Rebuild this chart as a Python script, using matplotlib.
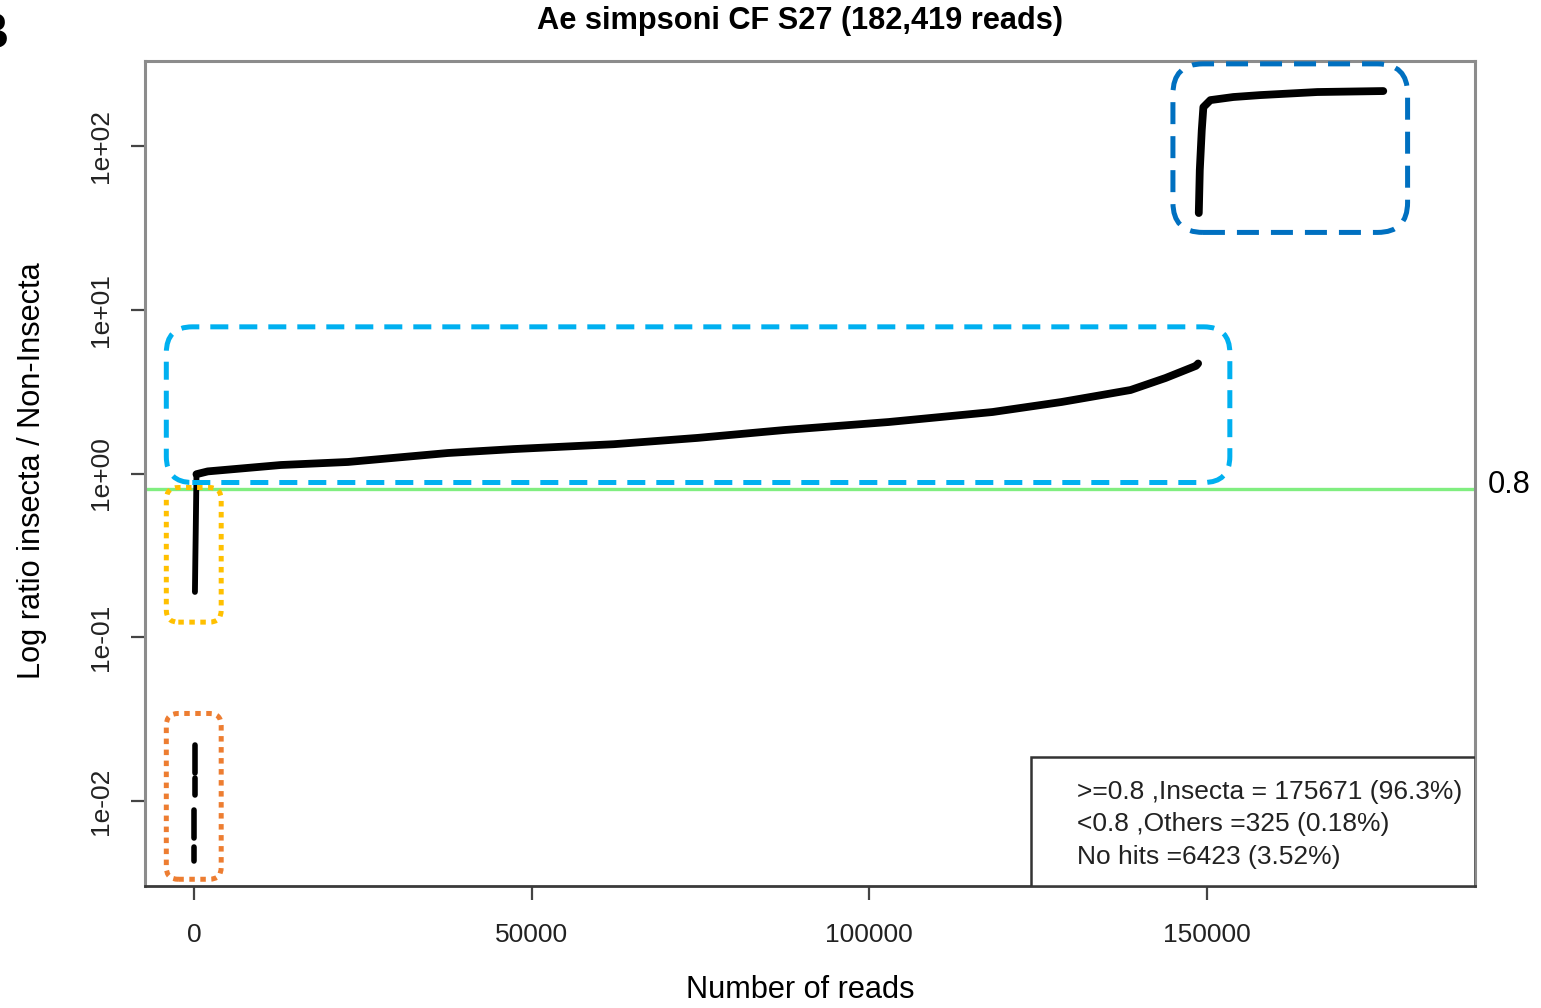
import matplotlib
matplotlib.use('Agg')
import matplotlib.pyplot as plt
from matplotlib import font_manager
from matplotlib.patches import FancyBboxPatch, Rectangle
from matplotlib.ticker import FixedLocator, FixedFormatter, NullLocator
from matplotlib.transforms import IdentityTransform

# --- data ---
# sorted ratio of insecta / non-insecta hits, drawn as separate runs
low_x = [10, 25, 40, 55]
low_top = [0.0052, 0.0088, 0.0138, 0.0221]
low_bot = [0.0043, 0.0059, 0.0109, 0.0149]

mid_x = [100, 160, 220, 280, 325]
mid_y = [0.189, 0.30, 0.45, 0.70, 0.97]

main_x = [325, 2000, 12840, 22760, 37570, 47330, 62140, 74570, 87460,
          102860, 118260, 128470, 138690, 143870, 148400, 148700]
main_y = [0.99, 1.03, 1.127, 1.176, 1.334, 1.41, 1.51, 1.65, 1.844,
          2.063, 2.375, 2.734, 3.236, 3.831, 4.55, 4.70]

top_x = [148800, 148950, 149240, 149480, 150520, 153920, 157920, 166360, 176130]
top_y = [39.0, 71.5, 125, 173, 191, 199.5, 205, 214, 217]

threshold = 0.8
total_reads = 182419

x_ticks = [0, 50000, 100000, 150000]
x_labels = ['0', '50000', '100000', '150000']
y_ticks = [1e-2, 1e-1, 1e0, 1e1, 1e2]
y_labels = ['1e-02', '1e-01', '1e+00', '1e+01', '1e+02']

legend_lines = ['>=0.8 ,Insecta = 175671 (96.3%)',
                '<0.8 ,Others =325 (0.18%)',
                'No hits =6423 (3.52%)']

# highlight boxes: (x0, x1, y0, y1, colour, dashes, rounding px)
boxes = [
    (-4140, 153400, 0.881, 7.87, '#00B0F0', (3.6, 2.2), 26),
    (144970, 179730, 29.7, 318, '#0070C0', (4.4, 2.4), 30),
    (-4140, 3990, 0.1236, 0.821, '#FFC000', (1.1, 1.1), 12),
    (-4140, 3990, 0.00332, 0.0342, '#ED7D31', (1.1, 1.1), 12),
]

# --- fonts ---
names = {f.name for f in font_manager.fontManager.ttflist}
if 'Liberation Sans Narrow' in names:
    narrow = 'Liberation Sans Narrow'
    nscale = 1.0
else:
    narrow = 'Liberation Sans'
    nscale = 0.82
plt.rcParams['font.family'] = ['Liberation Sans', 'DejaVu Sans']

W, H = 1541, 1008
fig = plt.figure(figsize=(W / 100, H / 100), dpi=100)
ax = fig.add_axes([145 / W, 1 - 886 / H, (1475 - 145) / W, (886 - 61) / H])

ax.set_yscale('log')
ax.set_xlim(-7297, 189716)
ax.set_ylim(10 ** -2.52, 10 ** 2.52)

# curve
lw = 5.6
for x, a, b in zip(low_x, low_bot, low_top):
    ax.plot([x, x], [a, b], color='black', lw=4, solid_capstyle='round')
ax.plot(mid_x, mid_y, color='black', lw=4.2, solid_capstyle='round')
ax.plot(main_x, main_y, color='black', lw=lw, solid_capstyle='round')
ax.plot(top_x, top_y, color='black', lw=lw, solid_capstyle='round')

ax.axhline(threshold, color='#80EE80', lw=2.4, zorder=1)

# axes look
for side in ['left', 'top', 'right']:
    ax.spines[side].set_color('#8c8c8c')
    ax.spines[side].set_linewidth(2.2)
ax.spines['bottom'].set_color('#3a3a3a')
ax.spines['bottom'].set_linewidth(2)

ax.xaxis.set_major_locator(FixedLocator(x_ticks))
ax.xaxis.set_major_formatter(FixedFormatter(x_labels))
ax.yaxis.set_major_locator(FixedLocator(y_ticks))
ax.yaxis.set_major_formatter(FixedFormatter(y_labels))
ax.yaxis.set_minor_locator(NullLocator())
ax.tick_params(axis='both', length=10, width=1.6, color='#444444',
               labelsize=19, labelcolor='#222222')
ax.tick_params(axis='x', pad=17)
ax.tick_params(axis='y', pad=13, labelrotation=90)
for lab in ax.get_yticklabels():
    lab.set_verticalalignment('center')

# legend box
ax.add_patch(Rectangle((0.666, 0), 0.334, 0.156, transform=ax.transAxes,
                       facecolor='white', edgecolor='#333333', lw=1.8, zorder=5))
for i, txt in enumerate(legend_lines):
    ax.text(0.7008, 0.1139 - i * 0.0393, txt, transform=ax.transAxes,
            fontsize=19, color='#222222', va='center', ha='left', zorder=6)

# texts
fig.text(800 / W, 1 - 21 / H, f'Ae simpsoni CF S27 ({total_reads:,} reads)',
         family=narrow, fontweight='bold', fontsize=27 * nscale,
         ha='center', va='center')
fig.text(32 / W, 1 - 471 / H, 'Log ratio insecta / Non-Insecta',
         family=narrow, fontsize=27 * nscale, rotation=90,
         ha='center', va='center')
fig.text(800 / W, 1 - 990 / H, 'Number of reads',
         family=narrow, fontsize=27 * nscale, ha='center', va='center')
fig.text(1488 / W, 1 - 485 / H, f'{threshold}',
         family=narrow, fontsize=27 * nscale, ha='left', va='center')
fig.text(9 / W, 1 - 35 / H, 'B', fontsize=36, fontweight='bold',
         ha='right', va='center')

# highlight boxes, placed from data coordinates
for x0, x1, y0, y1, col, dash, rad in boxes:
    (px0, py0) = ax.transData.transform((x0, y0))
    (px1, py1) = ax.transData.transform((x1, y1))
    p = FancyBboxPatch((px0, py0), px1 - px0, py1 - py0,
                       boxstyle=f'round,pad=0,rounding_size={rad}',
                       transform=IdentityTransform(), fill=False,
                       edgecolor=col, lw=3.6, linestyle=(0, dash),
                       zorder=10)
    fig.add_artist(p)

fig.savefig('out.png', dpi=100)
